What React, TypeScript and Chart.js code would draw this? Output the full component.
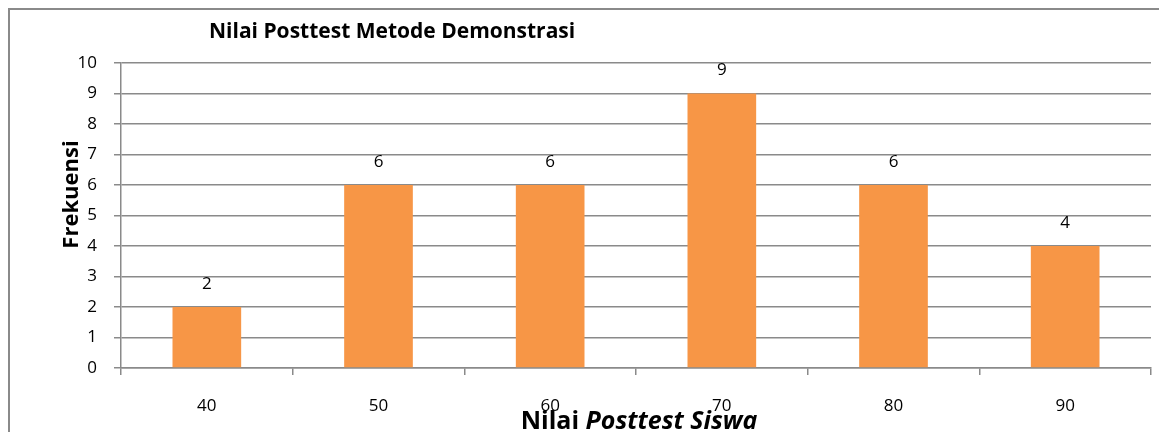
import React, { useEffect, useRef } from "react";
import { Chart, registerables } from "chart.js";

Chart.register(...registerables);

const categories: string[] = ["40", "50", "60", "70", "80", "90"];
const frequencies: number[] = [2, 6, 6, 9, 6, 4];
const yTicks: number[] = [0, 1, 2, 3, 4, 5, 6, 7, 8, 9, 10];
const chartTitle = "Nilai Posttest Metode Demonstrasi";
const yTitle = "Frekuensi";
const xTitleParts: { text: string; italic: boolean }[] = [
  { text: "Nilai ", italic: false },
  { text: "Posttest Siswa", italic: true },
];

const FONT = "'Open Sans', Lato, sans-serif";
const GRID = "#8a8a8a";
const BAR = "#F79646";

const decorPlugin = {
  id: "decor",
  beforeDraw(chart: any) {
    const { ctx, width, height } = chart;
    ctx.save();
    ctx.fillStyle = "#ffffff";
    ctx.fillRect(0, 0, width, height);
    ctx.strokeStyle = GRID;
    ctx.lineWidth = 2;
    ctx.strokeRect(1, 1, width + 20, height + 20);
    ctx.restore();
  },
  afterDraw(chart: any) {
    const { ctx, chartArea } = chart;
    ctx.save();
    ctx.fillStyle = "#000000";
    // title
    ctx.font = `bold 21px ${FONT}`;
    ctx.textAlign = "left";
    ctx.textBaseline = "alphabetic";
    ctx.fillText(chartTitle, chartArea.left + 88, 30);
    // y title
    ctx.save();
    ctx.translate(64, (chartArea.top + chartArea.bottom) / 2 - 21);
    ctx.rotate(-Math.PI / 2);
    ctx.font = `bold 22px ${FONT}`;
    ctx.textAlign = "center";
    ctx.textBaseline = "middle";
    ctx.fillText(yTitle, 0, 0);
    ctx.restore();
    // x title (mixed styles)
    const fonts = xTitleParts.map((p) => `${p.italic ? "italic " : ""}bold 25px ${FONT}`);
    let total = 0;
    const widths = xTitleParts.map((p, i) => {
      ctx.font = fonts[i];
      const w = ctx.measureText(p.text).width;
      total += w;
      return w;
    });
    let x = 631 - total / 2;
    ctx.textAlign = "left";
    ctx.textBaseline = "alphabetic";
    xTitleParts.forEach((p, i) => {
      ctx.font = fonts[i];
      ctx.fillText(p.text, x, 421);
      x += widths[i];
    });
    ctx.restore();
  },
  afterDatasetsDraw(chart: any) {
    const { ctx } = chart;
    const meta = chart.getDatasetMeta(0);
    const data = chart.data.datasets[0].data as number[];
    ctx.save();
    ctx.fillStyle = "#000000";
    ctx.font = `17px ${FONT}`;
    ctx.textAlign = "center";
    ctx.textBaseline = "middle";
    meta.data.forEach((el: any, i: number) => {
      ctx.fillText(String(data[i]), el.x, el.y - 23);
    });
    ctx.restore();
  },
};

export default function App() {
  const ref = useRef<HTMLCanvasElement | null>(null);
  useEffect(() => {
    if (!ref.current) return;
    const chart = new Chart(ref.current, {
      type: "bar",
      data: {
        labels: categories,
        datasets: [
          {
            data: frequencies,
            backgroundColor: BAR,
            borderWidth: 0,
            barPercentage: 0.4,
            categoryPercentage: 1,
          },
        ],
      },
      options: {
        responsive: false,
        animation: false,
        layout: { padding: { top: 55, right: 16, left: 0, bottom: 0 } },
        plugins: {
          legend: { display: false },
          title: { display: false },
          tooltip: { enabled: false },
        },
        scales: {
          x: {
            grid: {
              display: true,
              drawOnChartArea: false,
              drawTicks: true,
              tickLength: 7,
              color: GRID,
              lineWidth: 1.5,
              offset: true,
            },
            border: { display: true, color: GRID, width: 1.5 },
            ticks: {
              color: "#000000",
              font: { family: FONT, size: 17 },
              padding: 21,
              maxRotation: 0,
            },
            afterFit: (scale: any) => {
              scale.height = 64;
            },
          },
          y: {
            min: 0,
            max: 10,
            afterBuildTicks: (scale: any) => {
              scale.ticks = yTicks.map((v) => ({ value: v }));
            },
            grid: {
              color: GRID,
              lineWidth: 1.5,
              drawTicks: true,
              tickLength: 7,
            },
            border: { display: true, color: GRID, width: 1.5 },
            ticks: {
              color: "#000000",
              font: { family: FONT, size: 17 },
              padding: 17,
            },
            afterFit: (scale: any) => {
              scale.width = 113;
            },
          },
        },
      },
      plugins: [decorPlugin],
    });
    return () => chart.destroy();
  }, []);
  return (
    <div style={{ width: 1159, height: 424 }}>
      <canvas ref={ref} width={1159} height={424} style={{ display: "block" }} />
    </div>
  );
}
